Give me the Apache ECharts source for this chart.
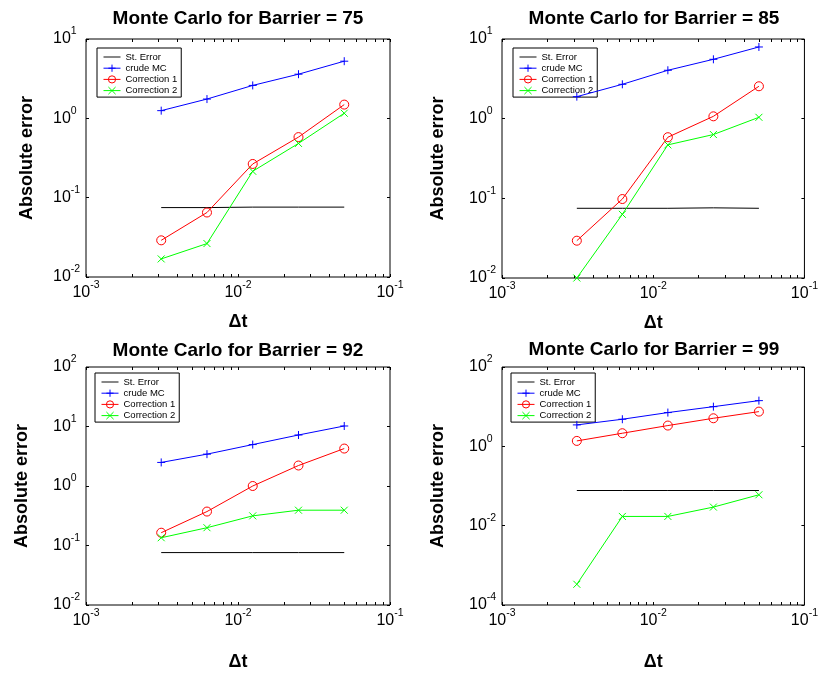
<!DOCTYPE html>
<html><head><meta charset="utf-8">
<script src="https://cdn.jsdelivr.net/npm/echarts@6/dist/echarts.min.js"></script>
<style>html,body{margin:0;padding:0;background:#fff}#c{width:821px;height:673px}</style>
</head><body><div id="c"></div>
<script>
// ---- data ----
const dt = [0.003125, 0.00625, 0.0125, 0.025, 0.05];
const titles = ['Monte Carlo for Barrier = 75', 'Monte Carlo for Barrier = 85', 'Monte Carlo for Barrier = 92', 'Monte Carlo for Barrier = 99'];
const seriesNames = ['St. Error', 'crude MC', 'Correction 1', 'Correction 2'];
const xLabel = '\u0394t';
const yLabel = 'Absolute error';

const stErr75 = [0.075, 0.075, 0.076, 0.076, 0.076];
const crude75 = [1.25, 1.75, 2.6, 3.6, 5.25];
const corr1_75 = [0.029, 0.065, 0.266, 0.58, 1.49];
const corr2_75 = [0.0169, 0.0264, 0.215, 0.483, 1.16];

const stErr85 = [0.075, 0.075, 0.075, 0.076, 0.075];
const crude85 = [1.89, 2.7, 4.05, 5.56, 7.94];
const corr1_85 = [0.0294, 0.098, 0.585, 1.07, 2.55];
const corr2_85 = [0.01, 0.063, 0.469, 0.632, 1.04];

const stErr92 = [0.076, 0.076, 0.076, 0.076, 0.076];
const crude92 = [2.49, 3.43, 4.97, 7.2, 10.2];
const corr1_92 = [0.164, 0.372, 1.0, 2.21, 4.26];
const corr2_92 = [0.135, 0.199, 0.315, 0.392, 0.392];

const stErr99 = [0.077, 0.077, 0.077, 0.077, 0.077];
const crude99 = [3.47, 4.82, 7.1, 10.0, 14.2];
const corr1_99 = [1.37, 2.14, 3.34, 5.1, 7.5];
const corr2_99 = [0.000333, 0.0171, 0.0171, 0.0294, 0.0601];

const panelData = [
  [stErr75, crude75, corr1_75, corr2_75],
  [stErr85, crude85, corr1_85, corr2_85],
  [stErr92, crude92, corr1_92, corr2_92],
  [stErr99, crude99, corr1_99, corr2_99]
];
const xMin = 0.001, xMax = 0.1;
const yMins = [0.01, 0.01, 0.01, 0.0001];
const yMaxs = [10, 10, 100, 100];
const yIntervals = [1, 1, 1, 2];
const minorMults = [2, 3, 4, 5, 6, 7, 8, 9];

// ---- layout / style ----
const FONT = "'Liberation Sans', Arial, Helvetica, sans-serif";
const grids = [
  {left: 86, top: 39, width: 304, height: 238},
  {left: 502, top: 39, width: 304, height: 239},
  {left: 86, top: 367, width: 304, height: 238},
  {left: 502, top: 367, width: 304, height: 238}
];
const titlePos = [{x: 238, y: 9}, {x: 654, y: 9}, {x: 238, y: 341}, {x: 654, y: 340}];
const legendPos = [{l: 97, t: 48}, {l: 513, t: 48}, {l: 95, t: 373}, {l: 511, t: 373}];
const xNameGap = [36, 36, 48, 48];
const yNameGap = [50, 55, 55, 55];

const colors = ['#000000', '#0000ff', '#ff0000', '#00ff00'];
const symbols = ['none', 'path://M0,5L10,5M5,0L5,10', 'circle', 'path://M0,0L10,10M10,0L0,10'];
const symSizes = [0, 8, 9, 7];

// minor tick positions (in exponent space) for x axis
const xMinorExp = [];
const xAllExp = [];
for (let e = -3; e < -1; e++) {
  xAllExp.push(e);
  minorMults.forEach(m => { const v = Math.log10(m) + e; xMinorExp.push(v); xAllExp.push(v); });
}
xAllExp.push(-1);

const rich = {
  b: {fontSize: 16, fontFamily: FONT, color: '#000', lineHeight: 16, verticalAlign: 'bottom'},
  s: {fontSize: 10.5, fontFamily: FONT, color: '#000', lineHeight: 10, padding: [0, 0, 10, 0], verticalAlign: 'bottom'}
};
const fmt = v => '{b|10}{s|' + Math.round(Math.log10(v)) + '}';

const legendData = seriesNames.map((n, k) => k === 0
  ? {name: n, icon: 'path://M0,0L18,0L18,1L0,1Z', itemStyle: {borderWidth: 0, color: '#000'}}
  : {name: n});

const option = {
  animation: false,
  backgroundColor: '#fff',
  title: [], legend: [], grid: [], xAxis: [], yAxis: [], series: []
};

for (let i = 0; i < 4; i++) {
  option.grid.push(Object.assign({show: true, borderColor: '#000', borderWidth: 1, backgroundColor: '#fff', containLabel: false}, grids[i]));
  option.title.push({
    text: titles[i], left: titlePos[i].x, top: titlePos[i].y, textAlign: 'center', padding: 0,
    textStyle: {fontFamily: FONT, fontWeight: 'bold', fontSize: 19, color: '#000'}
  });
  option.legend.push({
    data: legendData, orient: 'vertical', left: legendPos[i].l, top: legendPos[i].t,
    itemWidth: 17, itemHeight: 9, itemGap: 1.2, padding: [4, 4, 1.5, 6],
    backgroundColor: '#fff', borderColor: '#000', borderWidth: 1, borderRadius: 0,
    selectedMode: false,
    lineStyle: {width: 1},
    itemStyle: {borderWidth: 1},
    textStyle: {fontFamily: FONT, fontSize: 9.5, color: '#000', lineHeight: 9}
  });
  // x axes: log (labels), minor ticks bottom, ticks top
  option.xAxis.push({
    type: 'log', logBase: 10, gridIndex: i, min: xMin, max: xMax, position: 'bottom',
    name: xLabel, nameLocation: 'middle', nameGap: xNameGap[i],
    nameTextStyle: {fontFamily: FONT, fontWeight: 'bold', fontSize: 18, color: '#000'},
    axisLine: {show: false}, splitLine: {show: false},
    axisTick: {inside: true, length: 3, lineStyle: {color: '#000'}},
    axisLabel: {formatter: fmt, rich: rich, margin: 8, color: '#000'}
  });
  option.xAxis.push({
    type: 'value', gridIndex: i, min: -3, max: -1, position: 'bottom',
    axisLine: {show: false}, splitLine: {show: false}, axisLabel: {show: false},
    axisTick: {inside: true, length: 3, customValues: xMinorExp, lineStyle: {color: '#000'}}
  });
  option.xAxis.push({
    type: 'value', gridIndex: i, min: -3, max: -1, position: 'top',
    axisLine: {show: false}, splitLine: {show: false}, axisLabel: {show: false},
    axisTick: {inside: true, length: 3, customValues: xAllExp, lineStyle: {color: '#000'}}
  });
  option.yAxis.push({
    type: 'log', logBase: 10, gridIndex: i, min: yMins[i], max: yMaxs[i], interval: yIntervals[i], position: 'left',
    name: yLabel, nameLocation: 'middle', nameGap: yNameGap[i], nameRotate: 90,
    nameTextStyle: {fontFamily: FONT, fontWeight: 'bold', fontSize: 18, color: '#000'},
    axisLine: {show: false}, splitLine: {show: false},
    axisTick: {inside: true, length: 3, lineStyle: {color: '#000'}},
    axisLabel: {formatter: fmt, rich: rich, margin: 33, align: 'left', color: '#000'}
  });
  option.yAxis.push({
    type: 'log', logBase: 10, gridIndex: i, min: yMins[i], max: yMaxs[i], interval: yIntervals[i], position: 'right',
    axisLine: {show: false}, splitLine: {show: false}, axisLabel: {show: false},
    axisTick: {inside: true, length: 3, lineStyle: {color: '#000'}}
  });
  for (let k = 0; k < 4; k++) {
    const arr = panelData[i][k];
    option.series.push({
      type: 'line', name: seriesNames[k], xAxisIndex: i * 3, yAxisIndex: i * 2,
      data: dt.map((x, j) => [x, arr[j]]),
      symbol: symbols[k], symbolSize: symSizes[k], showSymbol: k > 0,
      lineStyle: {color: colors[k], width: 1},
      itemStyle: {color: k === 2 ? 'rgba(0,0,0,0)' : colors[k], borderColor: colors[k], borderWidth: k === 0 ? 0 : 1},
      emphasis: {disabled: true}, z: 3 + k
    });
  }
}

const chart = echarts.init(document.getElementById('c'), null, {renderer: 'canvas'});
chart.setOption(option);
</script>
</body></html>
